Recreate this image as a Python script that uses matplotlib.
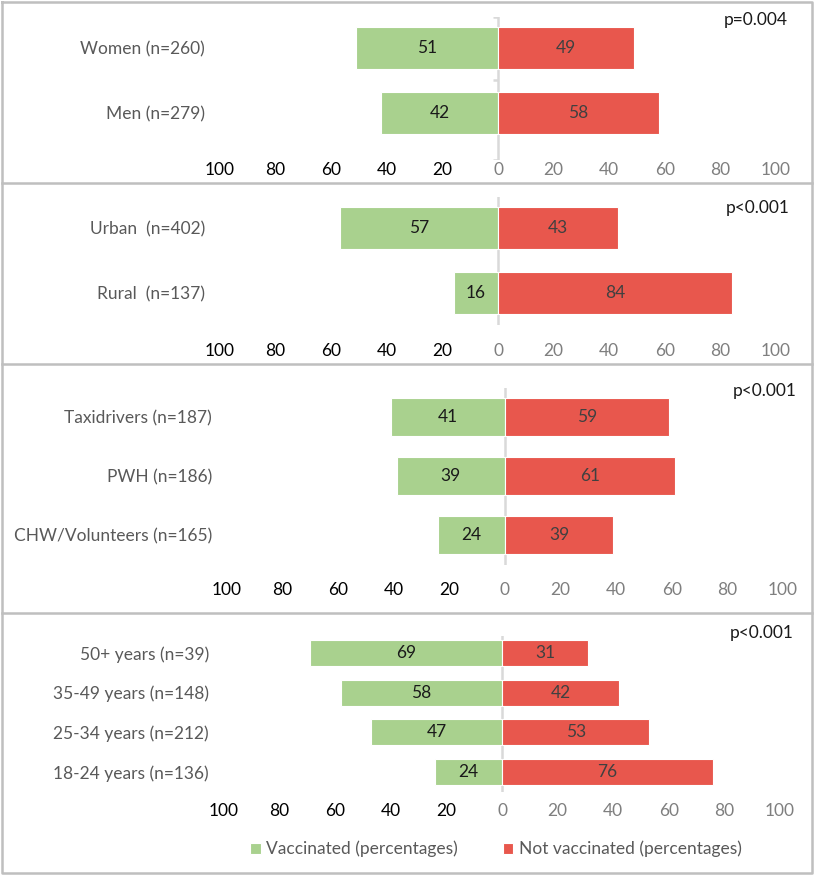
import matplotlib.pyplot as plt
from matplotlib.lines import Line2D

plt.rcParams['font.family'] = ['Lato', 'DejaVu Sans']

# ---------------------------------------------------------------------------
# data
# ---------------------------------------------------------------------------
sex_labels = ['Women (n=260)', 'Men (n=279)']
sex_vacc = [51, 42]
sex_not = [49, 58]

area_labels = ['Urban  (n=402)', 'Rural  (n=137)']
area_vacc = [57, 16]
area_not = [43, 84]

group_labels = ['Taxidrivers (n=187)', 'PWH (n=186)', 'CHW/Volunteers (n=165)']
group_vacc = [41, 39, 24]
group_not = [59, 61, 39]

age_labels = ['50+ years (n=39)', '35-49 years (n=148)',
              '25-34 years (n=212)', '18-24 years (n=136)']
age_vacc = [69, 58, 47, 24]
age_not = [31, 42, 53, 76]

p_values = ['p=0.004', 'p<0.001', 'p<0.001', 'p<0.001']
ticks = list(range(-100, 101, 20))

green = '#A9D18E'
red = '#E8574D'
grey_txt = '#595959'
line_col = '#BFBFBF'
fs = 12.5

W, H = 814, 875
fig = plt.figure(figsize=(W / 100, H / 100), dpi=100)

# layout in pixels: zero x, axes top, axes bottom, first bar centre, spacing,
# tick label centre y, p-value x/y
panels = [
    dict(labels=sex_labels, vacc=sex_vacc, nv=sex_not, zero=498, top=17, bot=160,
         c0=48, step=65, ty=170, px=756, py=20, brackets=True),
    dict(labels=area_labels, vacc=area_vacc, nv=area_not, zero=498, top=197, bot=325,
         c0=228, step=65, ty=351, px=758, py=208, brackets=False),
    dict(labels=group_labels, vacc=group_vacc, nv=group_not, zero=505, top=388, bot=565,
         c0=417, step=59, ty=590, px=765, py=391, brackets=False),
    dict(labels=age_labels, vacc=age_vacc, nv=age_not, zero=502, top=636, bot=792,
         c0=653, step=39.67, ty=811, px=762, py=633, brackets=False),
]
scale = 2.78  # px per percentage point

for i, p in enumerate(panels):
    left = p['zero'] - 100 * scale
    ax = fig.add_axes([left / W, 1 - p['bot'] / H, 200 * scale / W, (p['bot'] - p['top']) / H])
    n = len(p['labels'])
    y = list(range(n))
    gb = ax.barh(y, [-v for v in p['vacc']], height=0.66, color=green,
                 edgecolor='white', linewidth=0.8, label='Vaccinated (percentages)')
    rb = ax.barh(y, p['nv'], height=0.66, color=red,
                 edgecolor='white', linewidth=0.8, label='Not vaccinated (percentages)')
    for yy, v in zip(y, p['vacc']):
        ax.text(-v / 2, yy, str(v), ha='center', va='center', fontsize=fs, color='#1A1A1A')
    for yy, v in zip(y, p['nv']):
        ax.text(v / 2, yy, str(v), ha='center', va='center', fontsize=fs, color='#404040')
    ax.axvline(0, color='#D9D9D9', lw=1.8, zorder=0.5)
    if p['brackets']:
        # small category-axis tick marks
        ylo = (p['top'] - p['c0']) / p['step']
        yhi = (p['bot'] - p['c0']) / p['step']
        for yb in [ylo, 0.5, yhi]:
            ax.plot([-1.8, 0], [yb, yb], color='#D9D9D9', lw=1.8, zorder=0.5,
                    solid_capstyle='butt')

    ax.set_xlim(-100, 100)
    ax.set_ylim((p['bot'] - p['c0']) / p['step'], (p['top'] - p['c0']) / p['step'])
    ax.set_yticks(y)
    ax.set_yticklabels(p['labels'], fontsize=fs, color=grey_txt)
    ax.set_xticks(ticks)
    ax.set_xticklabels([str(abs(t)) for t in ticks], fontsize=fs)
    for t, lab in zip(ticks, ax.get_xticklabels()):
        lab.set_color('#000000' if t < 0 else '#7F7F7F')
    ax.tick_params(axis='y', length=0, pad=15 * 0.72)
    ax.tick_params(axis='x', length=0, pad=max(0, (p['ty'] - p['bot'] - 8)) * 0.72)
    for s in ax.spines.values():
        s.set_visible(False)
    ax.patch.set_alpha(0)

    fig.text(p['px'] / W, 1 - p['py'] / H, p_values[i], ha='center', va='center',
             fontsize=fs, color='#1A1A1A')

    if i == 3:
        ax.legend(handles=[gb, rb], loc='center', bbox_to_anchor=(496 / W, 1 - 849 / H),
                  bbox_transform=fig.transFigure, ncol=2, frameon=False, fontsize=fs,
                  handlelength=0.6, handleheight=0.6, handletextpad=0.3,
                  columnspacing=2.6, labelcolor=grey_txt)

# border and separators
for yp in [183, 364, 613]:
    fig.add_artist(Line2D([2 / W, 1 - 2 / W], [1 - yp / H] * 2, color=line_col, lw=1.8))
fig.add_artist(Line2D([2 / W, 1 - 2 / W, 1 - 2 / W, 2 / W, 2 / W],
                      [1 - 2 / H, 1 - 2 / H, 2 / H, 2 / H, 1 - 2 / H],
                      color=line_col, lw=1.8))

fig.savefig('out.png', dpi=100, facecolor='white')
